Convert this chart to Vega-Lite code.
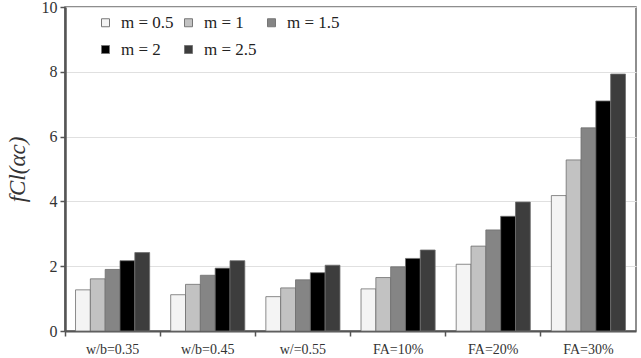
{
  "$schema": "https://vega.github.io/schema/vega-lite/v6.json",
  "width": 571,
  "height": 324,
  "autosize": "none",
  "padding": {"left": 65, "top": 7, "right": 5, "bottom": 27},
  "background": "white",
  "config": {
    "view": {"stroke": "#6a6a6a", "strokeWidth": 1.5},
    "font": "Liberation Serif"
  },
  "data": {
    "values": [
      {"group": "w/b=0.35", "m": "m = 0.5", "value": 1.27},
      {"group": "w/b=0.35", "m": "m = 1", "value": 1.61},
      {"group": "w/b=0.35", "m": "m = 1.5", "value": 1.90},
      {"group": "w/b=0.35", "m": "m = 2", "value": 2.17},
      {"group": "w/b=0.35", "m": "m = 2.5", "value": 2.42},
      {"group": "w/b=0.45", "m": "m = 0.5", "value": 1.12},
      {"group": "w/b=0.45", "m": "m = 1", "value": 1.44},
      {"group": "w/b=0.45", "m": "m = 1.5", "value": 1.72},
      {"group": "w/b=0.45", "m": "m = 2", "value": 1.94},
      {"group": "w/b=0.45", "m": "m = 2.5", "value": 2.17},
      {"group": "w/=0.55", "m": "m = 0.5", "value": 1.06},
      {"group": "w/=0.55", "m": "m = 1", "value": 1.33},
      {"group": "w/=0.55", "m": "m = 1.5", "value": 1.58},
      {"group": "w/=0.55", "m": "m = 2", "value": 1.80},
      {"group": "w/=0.55", "m": "m = 2.5", "value": 2.03},
      {"group": "FA=10%", "m": "m = 0.5", "value": 1.30},
      {"group": "FA=10%", "m": "m = 1", "value": 1.65},
      {"group": "FA=10%", "m": "m = 1.5", "value": 1.98},
      {"group": "FA=10%", "m": "m = 2", "value": 2.24},
      {"group": "FA=10%", "m": "m = 2.5", "value": 2.50},
      {"group": "FA=20%", "m": "m = 0.5", "value": 2.06},
      {"group": "FA=20%", "m": "m = 1", "value": 2.62},
      {"group": "FA=20%", "m": "m = 1.5", "value": 3.12},
      {"group": "FA=20%", "m": "m = 2", "value": 3.54},
      {"group": "FA=20%", "m": "m = 2.5", "value": 3.98},
      {"group": "FA=30%", "m": "m = 0.5", "value": 4.18},
      {"group": "FA=30%", "m": "m = 1", "value": 5.28},
      {"group": "FA=30%", "m": "m = 1.5", "value": 6.27},
      {"group": "FA=30%", "m": "m = 2", "value": 7.10},
      {"group": "FA=30%", "m": "m = 2.5", "value": 7.93}
    ]
  },
  "mark": {"type": "bar", "stroke": "#6e6e6e", "strokeWidth": 0.8},
  "encoding": {
    "x": {
      "field": "group",
      "type": "nominal",
      "sort": null,
      "scale": {"paddingInner": 0, "paddingOuter": 0},
      "axis": {
        "title": null,
        "bandPosition": 0,
        "labelAngle": 0,
        "labelAlign": "center",
        "labelDx": 47.5,
        "labelFont": "Liberation Serif",
        "labelFontSize": 14,
        "labelColor": "#333",
        "labelPadding": 6,
        "domainColor": "#555",
        "domainWidth": 2,
        "tickColor": "#555",
        "tickWidth": 1.5,
        "tickSize": 5,
        "grid": false
      }
    },
    "xOffset": {
      "field": "m",
      "type": "nominal",
      "sort": ["m = 0.5", "m = 1", "m = 1.5", "m = 2", "m = 2.5"],
      "scale": {"paddingInner": 0, "paddingOuter": 0.71}
    },
    "y": {
      "field": "value",
      "type": "quantitative",
      "scale": {"domain": [0, 10], "nice": false},
      "axis": {
        "title": "fCl(αc)",
        "titleFont": "Liberation Serif",
        "titleFontStyle": "italic",
        "titleFontWeight": "normal",
        "titleFontSize": 23,
        "titleColor": "#333",
        "titlePadding": 12,
        "values": [0, 2, 4, 6, 8, 10],
        "labelFont": "Liberation Serif",
        "labelFontSize": 16,
        "labelColor": "#333",
        "labelPadding": 3,
        "domainColor": "#555",
        "domainWidth": 2.5,
        "tickColor": "#555",
        "tickWidth": 1.5,
        "tickSize": 5,
        "grid": true,
        "gridColor": "#e0e0e0",
        "gridWidth": 1
      }
    },
    "color": {
      "field": "m",
      "type": "nominal",
      "sort": ["m = 0.5", "m = 1", "m = 1.5", "m = 2", "m = 2.5"],
      "scale": {
        "domain": ["m = 0.5", "m = 1", "m = 1.5", "m = 2", "m = 2.5"],
        "range": ["#f4f4f4", "#c2c2c2", "#858585", "#000000", "#3d3d3d"]
      },
      "legend": {
        "title": null,
        "orient": "none",
        "direction": "horizontal",
        "legendX": 32,
        "legendY": 7,
        "columns": 3,
        "columnPadding": 6,
        "rowPadding": 9,
        "padding": 0,
        "symbolType": "square",
        "symbolSize": 64,
        "symbolStrokeColor": "#777",
        "symbolStrokeWidth": 1,
        "labelFont": "Liberation Serif",
        "labelFontStyle": "normal",
        "labelFontSize": 17,
        "labelColor": "#222",
        "labelOffset": 7
      }
    }
  }
}
